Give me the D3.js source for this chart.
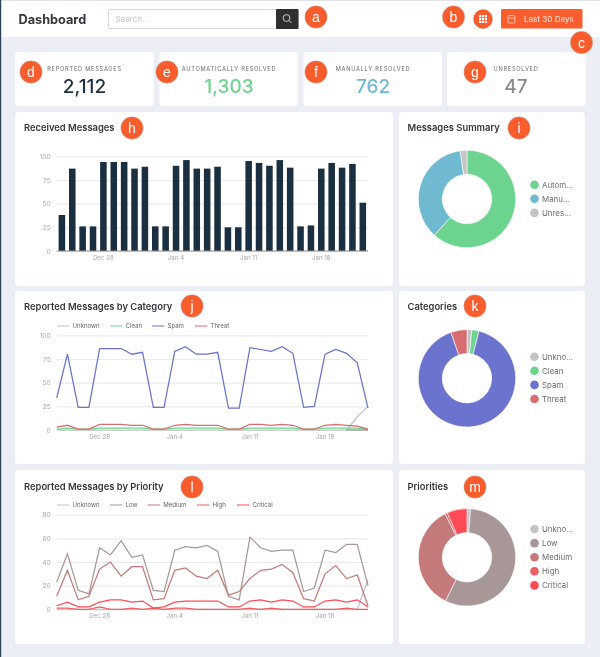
<!DOCTYPE html>
<html><head><meta charset="utf-8">
<script src="https://cdn.jsdelivr.net/npm/d3@7/dist/d3.min.js"></script>
<style>html,body{margin:0;padding:0;background:#ebeff5;overflow:hidden}svg{display:block;filter:blur(0.35px)}text{font-family:Inter,"Noto Sans",sans-serif}</style>
</head><body><div id="c"></div>
<script>
// ---- data ----
const tickLabels = ["Dec 28","Jan 4","Jan 11","Jan 18"];
const tickIndex = [4,11,18,25];
const received = [38,87,26,26,94,94,94,87,89,26,26,90,96,87,87,89,25,25,95,93,90,96,88,26,27,87,93,88,92,51];
const catUnknown = [0,0,0,0,0,0,0,0,0,0,0,0,0,0,0,0,0,0,0,0,0,0,0,0,0,0,0,0,14,25];
const catClean = [1,2,1,1,2,2,2,2,2,1,1,2,2,2,2,2,1,1,2,2,2,2,2,1,1,2,2,2,2,1];
const catSpam = [34,80,24,24,86,86,86,80,82,24,24,83,88,80,80,82,23,23,87,85,83,88,81,24,25,80,85,81,71,23];
const catThreat = [3,5,1,1,6,6,6,5,5,1,1,5,6,5,5,5,1,1,6,6,5,6,5,1,1,5,6,5,4,1];
const priUnknown = [0,0,0,0,0,0,0,0,0,0,0,0,0,0,0,0,0,0,0,0,0,0,0,0,0,0,0,0,0,25];
const priLow = [23,47,16,13,52,46,58,44,46,16,15,50,53,52,54,49,11,8,61,52,49,50,50,15,18,50,48,55,55,20];
const priMedium = [11,33,8,11,34,40,28,36,36,8,9,33,35,28,26,33,12,15,26,33,34,38,31,9,7,30,37,26,29,3];
const priHigh = [1,1,0,0,2,0,0,1,0,1,0,1,1,0,0,0,0,0,1,0,1,0,0,0,0,0,0,1,0,0];
const priCritical = [3,6,2,2,6,8,8,6,7,1,2,6,7,7,7,7,2,2,7,8,6,8,7,2,2,7,8,6,8,2];
const catNames = ["Unknown","Clean","Spam","Threat"];
const priNames = ["Unknown","Low","Medium","High","Critical"];
const summaryLegend = ["Autom…","Manu…","Unres…"];
const categoryLegend = ["Unkno…","Clean","Spam","Threat"];
const priorityLegend = ["Unkno…","Low","Medium","High","Critical"];
const summaryValues = [1303,762,47];
const categoryValues = [34,50,1915,113];
const priorityValues = [25,1185,745,17,140];
const statLabels = ["REPORTED MESSAGES","AUTOMATICALLY RESOLVED","MANUALLY RESOLVED","UNRESOLVED"];
const statValues = ["2,112","1,303","762","47"];
const statColors = ["#1d2f42","#6dd48f","#6fbad1","#8a8a8a"];
const badgeLetters = ["a","b","c","d","e","f","g","h","i","j","k","l","m"];
const badgeX = [316,453.5,581.5,31,167,316,475,132,519,192,475,192,475];
const badgeY = [17,17,42.5,72,72,72,72,128,128,306,306,487,487];
const catColors = ["#c4c4c4","#6dd48f","#6b73cf","#d96c70"];
const priColors = ["#c4c4c4","#a89797","#c47a7a","#ef5f66","#ff4b55"];
const sumColors = ["#6dd48f","#6fbad1","#c4c4c4"];

// ---- page ----
const svg = d3.select("#c").append("svg").attr("width",600).attr("height",657);
svg.append("rect").attr("width",600).attr("height",657).attr("fill","#ebeff5");
svg.append("rect").attr("width",600).attr("height",37).attr("fill","#fff");
svg.append("rect").attr("y",0).attr("width",600).attr("height",1).attr("fill","#dfe3e8");
svg.append("rect").attr("width",1.2).attr("height",657).attr("fill","#2b4059");

svg.append("text").attr("x",18.5).attr("y",24).attr("font-size",12.7).attr("font-weight",700).attr("fill","#33363b").text("Dashboard");
svg.append("rect").attr("x",108.5).attr("y",9.5).attr("width",190).attr("height",19).attr("rx",1.5).attr("fill","#fff").attr("stroke","#d8d8d8");
svg.append("text").attr("x",115.5).attr("y",22).attr("font-size",8).attr("fill","#c8c8c8").text("Search...");
svg.append("rect").attr("x",276).attr("y",9).attr("width",22.5).attr("height",20).attr("rx",1).attr("fill","#2d2f31");
svg.append("circle").attr("cx",286.5).attr("cy",18).attr("r",3.4).attr("fill","none").attr("stroke","#ddd").attr("stroke-width",.9);
svg.append("line").attr("x1",289).attr("y1",20.5).attr("x2",291.5).attr("y2",23).attr("stroke","#ddd").attr("stroke-width",.9);

const orange = "#f95d2d";
svg.append("circle").attr("cx",483).attr("cy",19).attr("r",9.7).attr("fill",orange);
d3.range(3).forEach(i=>d3.range(3).forEach(j=>svg.append("rect").attr("x",479+i*2.9).attr("y",15+j*2.9).attr("width",2.2).attr("height",2.2).attr("fill","#fff")));
svg.append("rect").attr("x",501).attr("y",9).attr("width",81.5).attr("height",19.5).attr("rx",1.5).attr("fill",orange);
svg.append("rect").attr("x",508).attr("y",15.5).attr("width",7).attr("height",7.5).attr("rx",1).attr("fill","none").attr("stroke","#ffd9cc").attr("stroke-width",.8);
svg.append("line").attr("x1",508).attr("x2",515).attr("y1",18).attr("y2",18).attr("stroke","#ffd9cc").attr("stroke-width",.8);
svg.append("text").attr("x",524).attr("y",22.3).attr("font-size",8.1).attr("fill","#ffe9e2").text("Last 30 Days");

function card(x0,y0,x1,y1){svg.append("rect").attr("x",x0).attr("y",y0).attr("width",x1-x0).attr("height",y1-y0).attr("rx",3.5).attr("fill","#fff");}
const statX=[[15,154],[159.5,298],[303.5,442],[447,585.5]];
const statTextX=[[84.5,84.5],[229,229],[373,373],[516,516]];
statLabels.forEach((l,i)=>{
  card(statX[i][0],52,statX[i][1],106);
  svg.append("text").attr("x",statTextX[i][0]).attr("y",70.5).attr("text-anchor","middle").attr("font-size",5.7).attr("letter-spacing",.72).attr("fill","#6c6c6c").text(l);
  svg.append("text").attr("x",statTextX[i][1]).attr("y",92.5).attr("text-anchor","middle").attr("font-size",19).attr("font-weight",500).attr("fill",statColors[i]).text(statValues[i]);
});
const rows=[[112,286],[291,464],[470,644]];
const titlesL=["Received Messages","Reported Messages by Category","Reported Messages by Priority"];
const titlesR=["Messages Summary","Categories","Priorities"];
rows.forEach((r,i)=>{
  card(15,r[0],393,r[1]); card(399,r[0],585,r[1]);
  const ty=[130.5,310,489.5][i];
  svg.append("text").attr("x",24).attr("y",ty).attr("font-size",9.4).attr("font-weight",600).attr("fill","#33363b").text(titlesL[i]);
  svg.append("text").attr("x",407.5).attr("y",ty).attr("font-size",9.4).attr("font-weight",600).attr("fill","#33363b").text(titlesR[i]);
});

// ---- charts ----
const xL=56.7,xR=368;
const days=d3.range(30);
function axes(y,ticks,yScale){
  svg.append("g").attr("transform",`translate(${xL},0)`)
    .call(d3.axisLeft(yScale).tickValues(ticks).tickSize(-(xR-xL)).tickPadding(6))
    .call(g=>g.select(".domain").remove())
    .call(g=>g.selectAll("line").attr("stroke","#ebebeb").attr("stroke-width",1.2))
    .call(g=>g.selectAll("text").attr("fill","#a8a8a8").attr("font-size",6.6));
}
function xLabels(g,fn,yy){
  tickLabels.forEach((t,i)=>g.append("text").attr("x",fn(tickIndex[i])).attr("y",yy).attr("text-anchor","middle").attr("font-size",6.2).attr("fill","#a8a8a8").text(t));
}
// bar
{
  const y=d3.scaleLinear().domain([0,100]).range([251,156.3]);
  axes(y,[0,25,50,75,100],y);
  const x=d3.scaleBand().domain(days).range([xL,xR]).paddingInner(.37).paddingOuter(.185);
  svg.append("g").selectAll("rect").data(received).join("rect")
    .attr("x",(d,i)=>x(i)).attr("width",x.bandwidth()).attr("y",d=>y(d)).attr("height",d=>251-y(d)).attr("fill","#1a2f40");
  svg.append("line").attr("x1",xL).attr("x2",xR).attr("y1",251).attr("y2",251).attr("stroke","#8f8f8f").attr("stroke-width",1.2);
  xLabels(svg,i=>x(i)+x.bandwidth()/2,260);
}
function lines(yTop,yBot,maxV,ticks,series,colors,names,legX,legY,labelY,baseFrom){
  const y=d3.scaleLinear().domain([0,maxV]).range([yBot,yTop]);
  axes(y,ticks,y);
  const x=d3.scalePoint().domain(days).range([xL,xR]);
  const ln=d3.line().x((d,i)=>x(i)).y(d=>y(d));
  series.forEach((s,i)=>svg.append("path").attr("d",ln(s)).attr("fill","none").attr("stroke",colors[i]).attr("stroke-width",1.25));
  if(baseFrom!=null) svg.append("line").attr("x1",x(baseFrom)).attr("x2",x(29)).attr("y1",y(0)).attr("y2",y(0)).attr("stroke","#8c8c8c").attr("stroke-width",1.2);
  xLabels(svg,i=>x(i),labelY);
  names.forEach((n,i)=>{
    svg.append("line").attr("x1",legX[i]).attr("x2",legX[i]+12.5).attr("y1",legY).attr("y2",legY).attr("stroke",colors[i]).attr("stroke-width",1);
    svg.append("text").attr("x",legX[i]+15.5).attr("y",legY+2.3).attr("font-size",6.1).attr("fill","#666").text(n);
  });
}
lines(335.3,430,100,[0,25,50,75,100],[catUnknown,catClean,catSpam,catThreat],catColors,catNames,[57,110,152,195],326,439,27);
lines(514.7,609.3,80,[0,20,40,60,80],[priUnknown,priLow,priMedium,priHigh,priCritical],priColors,priNames,[57,110,147.7,197,237],505,618,null);

// donuts
function donut(cx,cy,vals,colors,labels,leg0){
  const pie=d3.pie().sort(null)(vals);
  const arc=d3.arc().innerRadius(24.7).outerRadius(48.7);
  svg.append("g").attr("transform",`translate(${cx},${cy})`).selectAll("path").data(pie).join("path")
    .attr("d",arc).attr("fill",(d,i)=>colors[i]).attr("stroke","#fff").attr("stroke-width",.6);
  labels.forEach((n,i)=>{
    const yy=leg0+i*14.1;
    svg.append("circle").attr("cx",534.5).attr("cy",yy).attr("r",4.3).attr("fill",colors[i]);
    svg.append("text").attr("x",542).attr("y",yy+2.9).attr("font-size",7.9).attr("fill","#6c6c6c").text(n);
  });
}
donut(467,199,summaryValues,sumColors,summaryLegend,184.7);
donut(467,378.3,categoryValues,catColors,categoryLegend,356.7);
donut(467,557.3,priorityValues,priColors,priorityLegend,529);

// badges
badgeLetters.forEach((l,i)=>{
  svg.append("circle").attr("cx",badgeX[i]).attr("cy",badgeY[i]).attr("r",11.2).attr("fill",orange).attr("stroke","#bbb").attr("stroke-width",.4);
  svg.append("text").attr("x",badgeX[i]).attr("y",badgeY[i]+5).attr("text-anchor","middle").style("font-family","'Liberation Sans'").attr("font-size",14).attr("fill","#fff").text(l);
});
</script></body></html>
